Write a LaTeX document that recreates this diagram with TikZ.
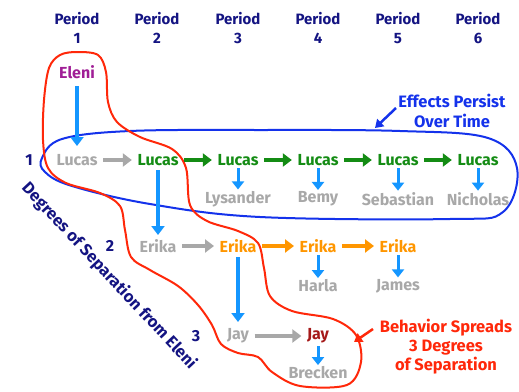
\documentclass[tikz,border=0pt]{standalone}
\usepackage{fontspec}
\setmainfont{Fira Sans}
\usetikzlibrary{arrows.meta}
\definecolor{navy}{RGB}{20,20,130}
\definecolor{gry}{RGB}{168,168,168}
\definecolor{grn}{RGB}{20,140,20}
\definecolor{org}{RGB}{255,150,0}
\definecolor{lblue}{RGB}{20,150,255}
\definecolor{bblue}{RGB}{20,50,235}
\definecolor{rred}{RGB}{255,40,10}
\definecolor{dred}{RGB}{165,25,25}
\definecolor{purp}{RGB}{160,30,150}
\tikzset{
  lbl/.style={font=\bfseries\fontsize{16}{18}\selectfont, inner sep=1.5pt},
  hdr/.style={lbl, text=navy, align=center, font=\bfseries\fontsize{15}{18.5}\selectfont},
  longarr/.style={draw=lblue, line width=3.5pt, -{Triangle[length=9pt,width=13pt]}},
  shortarr/.style={draw=lblue, line width=3pt, -{Triangle[length=8pt,width=12pt]}, shorten <=1pt, shorten >=0pt},
  sidearr/.style={line width=3.5pt, -{Triangle[length=9pt,width=13pt]}, shorten <=4pt, shorten >=4pt},
}
\begin{document}
\begin{tikzpicture}[x=1pt,y=-1pt]
\useasboundingbox (0,0) rectangle (519,391);
% headers
\foreach \i/\x in {1/77,2/157,3/238,4/318,5/398,6/478}{
  \node[hdr] (p\i) at (\x,28) {Period\\\i};
}
% blue outline
\draw[bblue, line width=2pt] plot[smooth cycle, tension=0.6] coordinates {
 (42,158) (62,139) (130,131) (260,130) (400,131) (488,138) (517,168) (503,212) (450,219) (260,217) (150,204) (72,186) (45,172)};
% red outline
\draw[rred, line width=2pt] plot[smooth cycle, tension=0.55] coordinates {
 (77,52) (98,55) (106,72) (108,102) (117,122) (140,137) (172,149) (186,168) (190,205) (207,221) (238,231) (258,243) (264,268) (270,296) (292,311) (333,319) (356,335) (361,362) (347,385) (300,386) (272,372) (258,357) (238,353) (221,344) (212,325) (198,305) (178,286) (150,270) (131,257) (125,230) (120,206) (100,193) (66,183) (48,168) (43,140) (44,100) (49,68) (60,55)};
% nodes
\node[lbl, text=purp] (eleni) at (77,72) {Eleni};
\node[lbl, text=gry] (lucasA) at (77,160) {Lucas};
\node[lbl, text=grn] (lucasB) at (158,160) {Lucas};
\node[lbl, text=grn] (lucasC) at (238,160) {Lucas};
\node[lbl, text=grn] (lucasD) at (318,160) {Lucas};
\node[lbl, text=grn] (lucasE) at (398,160) {Lucas};
\node[lbl, text=grn] (lucasF) at (478,160) {Lucas};
\node[lbl, text=gry] (lys) at (238,199) {Lysander};
\node[lbl, text=gry] (bemy) at (318,199) {Bemy};
\node[lbl, text=gry] (seb) at (398,199) {Sebastian};
\node[lbl, text=gry] (nic) at (478,199) {Nicholas};
\node[lbl, text=gry] (erikaA) at (158,246) {Erika};
\node[lbl, text=org] (erikaB) at (238,246) {Erika};
\node[lbl, text=org] (erikaC) at (318,246) {Erika};
\node[lbl, text=org] (erikaD) at (398,246) {Erika};
\node[lbl, text=gry] (harla) at (318,286) {Harla};
\node[lbl, text=gry] (james) at (398,286) {James};
\node[lbl, text=gry] (jayA) at (238,336) {Jay};
\node[lbl, text=dred] (jayB) at (318,336) {Jay};
\node[lbl, text=gry] (brecken) at (318,373) {Brecken};
\node[lbl, text=navy] (d1) at (29,160) {1};
\node[lbl, text=navy] (d2) at (110,246) {2};
\node[lbl, text=navy] (d3) at (196,336) {3};
\node[lbl, text=navy, rotate=-47, font=\bfseries\fontsize{16.5}{18}\selectfont] (deg) at (109,276) {Degrees of Separation from Eleni};
\node[lbl, text=bblue, align=center, font=\bfseries\fontsize{16.5}{20}\selectfont] (eff) at (452,111) {Effects Persist\\Over Time};
\node[lbl, text=rred, align=center, font=\bfseries\fontsize{16.5}{19}\selectfont] (beh) at (446,347) {Behavior Spreads\\3 Degrees\\of Separation};
% vertical arrows
\draw[longarr] (eleni.south) ++(0,6) coordinate (e0) -- (77,146) coordinate (e1);
\draw[longarr] (lucasB.south) ++(0,3) coordinate (l0) -- (158,235) coordinate (l1);
\draw[longarr] (erikaB.south) ++(0,3) coordinate (k0) -- (238,322) coordinate (k1);
\draw[shortarr] (lucasC) -- (lys);
\draw[shortarr] (lucasD) -- (bemy);
\draw[shortarr] (lucasE) -- (seb);
\draw[shortarr] (lucasF) -- (nic);
\draw[shortarr] (erikaC) -- (harla);
\draw[shortarr] (erikaD) -- (james);
\draw[shortarr] (jayB) -- (brecken);
% horizontal arrows
\draw[sidearr, gry] (lucasA) -- (lucasB);
\draw[sidearr, grn] (lucasB) -- (lucasC);
\draw[sidearr, grn] (lucasC) -- (lucasD);
\draw[sidearr, grn] (lucasD) -- (lucasE);
\draw[sidearr, grn] (lucasE) -- (lucasF);
\draw[sidearr, gry] (erikaA) -- (erikaB);
\draw[sidearr, org] (erikaB) -- (erikaC);
\draw[sidearr, org] (erikaC) -- (erikaD);
\draw[sidearr, gry] (jayA) -- (jayB);
% callout arrows
\coordinate (ea) at (396,108);
\coordinate (eb) at (375,128);
\draw[bblue, line width=2.5pt, -{Triangle[length=8pt,width=10pt]}] (ea) -- (eb);
\coordinate (ra) at (373,329);
\coordinate (rb) at (354,342);
\draw[rred, line width=2.5pt, -{Triangle[length=8pt,width=10pt]}] (ra) -- (rb);
\end{tikzpicture}
\end{document}
